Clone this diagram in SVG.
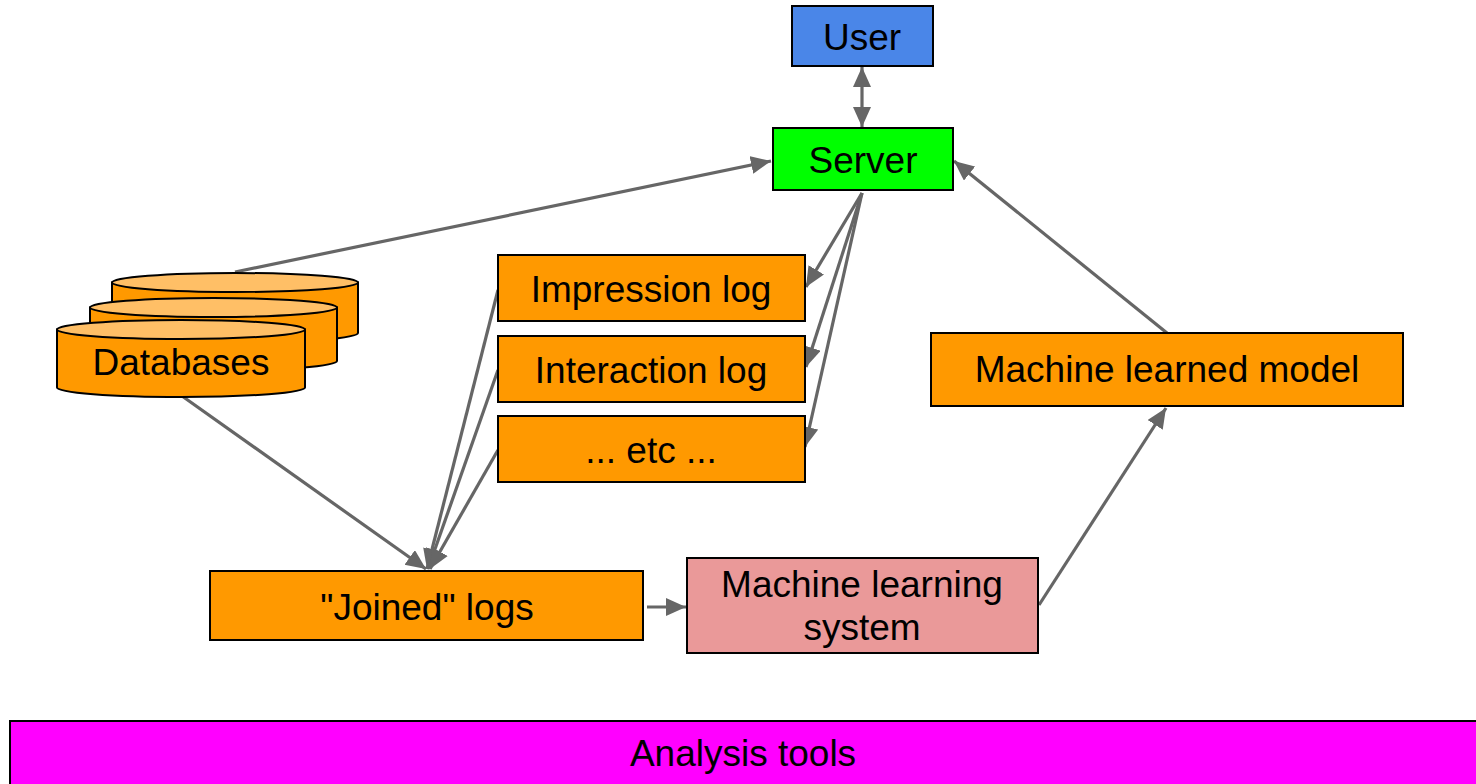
<svg xmlns="http://www.w3.org/2000/svg" width="1476" height="784" viewBox="0 0 1476 784">
  <style>
    .box { stroke: #000000; stroke-width: 2; }
    .lbl { font-family: "Liberation Sans", Arial, sans-serif; font-size: 37px; fill: #000000; text-anchor: middle; }
    .orange { fill: #ff9900; }
    .dbtop { fill: #ffbf66; stroke: #000000; stroke-width: 2; }
    .dbbody { fill: #ff9900; stroke: #000000; stroke-width: 2; }
    .conn { stroke: #666666; stroke-width: 3.2; fill: none; marker-end: url(#arrow); }
  </style>
  <defs>
    <marker id="arrow" markerUnits="userSpaceOnUse" markerWidth="21" markerHeight="19" refX="20" refY="9" orient="auto-start-reverse" viewBox="0 0 21 19">
      <path d="M0,0 L20,9 L0,18 Z" fill="#666666"/>
    </marker>
  </defs>
  <rect width="1476" height="784" fill="#ffffff"/>

  <!-- connectors -->
  <g id="connectors">
    <path class="conn" d="M862,67 L862,127" marker-start="url(#arrow)"/>
    <path class="conn" d="M235,272 L771,161"/>
    <path class="conn" d="M862,193 L806,287"/>
    <path class="conn" d="M862,193 L806,367"/>
    <path class="conn" d="M862,193 L805,447"/>
    <path class="conn" d="M498,290 L427,569"/>
    <path class="conn" d="M498,370 L428,569"/>
    <path class="conn" d="M498,450 L430,569"/>
    <path class="conn" d="M182,396 L426,569"/>
    <path class="conn" d="M647,607 L686,607"/>
    <path class="conn" d="M1039,605 L1166,408"/>
    <path class="conn" d="M1167,333 L954,161"/>
  </g>

  <g id="user">
    <rect class="box" x="792" y="6" width="141" height="60" fill="#4a86e8"/>
    <text class="lbl" x="862" y="50">User</text>
  </g>

  <g id="server">
    <rect class="box" x="773" y="128" width="180" height="62" fill="#00ff00"/>
    <text class="lbl" x="863" y="173">Server</text>
  </g>

  <g id="databases">
    <!-- back disk -->
    <path class="dbbody" d="M112,282.5 L112,333 A123,9.5 0 0 0 358,333 L358,282.5 Z"/>
    <ellipse class="dbtop" cx="235" cy="282.5" rx="123" ry="9.5"/>
    <!-- middle disk -->
    <path class="dbbody" d="M90,307.5 L90,361 A123.5,9.5 0 0 0 337,361 L337,307.5 Z"/>
    <ellipse class="dbtop" cx="213.5" cy="307.5" rx="123.5" ry="9.5"/>
    <!-- front disk -->
    <path class="dbbody" d="M57,329.5 L57,387.5 A124,9.5 0 0 0 305,387.5 L305,329.5 Z"/>
    <ellipse class="dbtop" cx="181" cy="329.5" rx="124" ry="9.5"/>
    <text class="lbl" x="181" y="375">Databases</text>
  </g>

  <g id="impression-log">
    <rect class="box orange" x="498" y="255" width="307" height="66"/>
    <text class="lbl" x="651" y="302">Impression log</text>
  </g>

  <g id="interaction-log">
    <rect class="box orange" x="498" y="336" width="307" height="66"/>
    <text class="lbl" x="651" y="383">Interaction log</text>
  </g>

  <g id="etc-log">
    <rect class="box orange" x="498" y="416" width="307" height="66"/>
    <text class="lbl" x="651" y="463">... etc ...</text>
  </g>

  <g id="joined-logs">
    <rect class="box orange" x="210" y="571" width="433" height="69"/>
    <text class="lbl" x="427" y="620">"Joined" logs</text>
  </g>

  <g id="ml-system">
    <rect class="box" x="687" y="558" width="351" height="95" fill="#ea9999"/>
    <text class="lbl" x="862" y="597">Machine learning</text>
    <text class="lbl" x="862" y="640">system</text>
  </g>

  <g id="ml-model">
    <rect class="box orange" x="931" y="333" width="472" height="73"/>
    <text class="lbl" x="1167" y="382">Machine learned model</text>
  </g>

  <g id="analysis-tools">
    <rect class="box" x="10" y="721" width="1480" height="80" fill="#ff00ff"/>
    <text class="lbl" x="743" y="766">Analysis tools</text>
  </g>
</svg>
